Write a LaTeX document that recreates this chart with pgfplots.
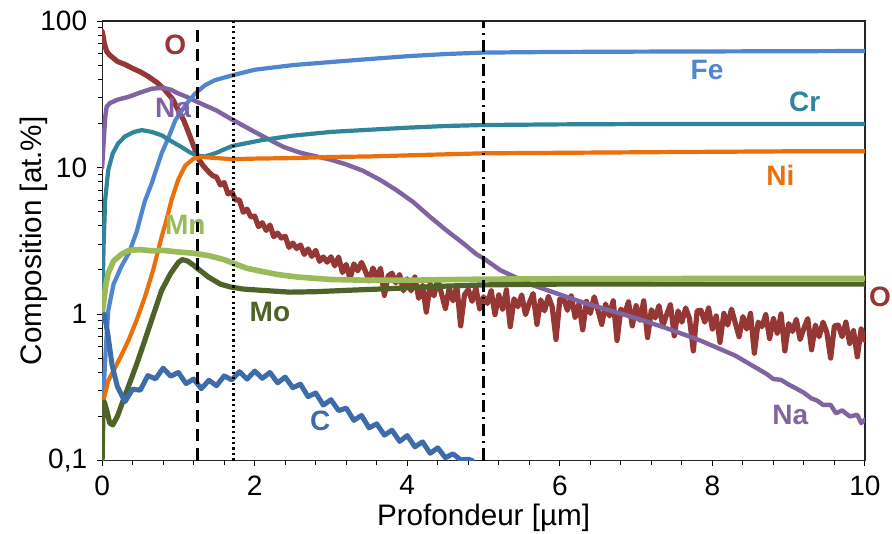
\documentclass[border=0pt]{standalone}
\usepackage{fontspec}
\setmainfont{Liberation Sans}
\usepackage{pgfplots}
\pgfplotsset{compat=1.18}
\definecolor{cO}{RGB}{149,55,53}
\definecolor{cNa}{RGB}{128,100,162}
\definecolor{cFe}{RGB}{79,134,206}
\definecolor{cC}{RGB}{62,108,170}
\definecolor{cCr}{RGB}{49,133,155}
\definecolor{cNi}{RGB}{234,112,13}
\definecolor{cMn}{RGB}{155,187,89}
\definecolor{cMo}{RGB}{79,98,40}
\begin{document}
\begin{tikzpicture}
\fontsize{14}{16}\selectfont
\begin{axis}[
  at={(0,0)}, anchor=south west,
  scale only axis, width=381pt, height=219.5pt,
  xmin=0, xmax=10, ymode=log, ymin=0.1, ymax=100,
  xtick={0,2,4,6,8,10}, xticklabels={0,2,4,6,8,10},
  minor x tick num=4,
  ytick={0.1,1,10,100}, yticklabels={{0,1},1,10,100},
  xtick pos=bottom, ytick pos=left, tick align=outside,
  major tick length=2.6pt, minor tick length=2.2pt,
  every tick/.style={black, line width=0.5pt},
  axis line style={line width=0.6pt, black!85},
  tick label style={font=\fontsize{14}{16}\selectfont},
  xlabel={Profondeur [µm]}, ylabel={Composition [at.\%]},
  label style={font=\fontsize{14.8}{16}\selectfont},
  xlabel style={at={(axis description cs:0.5,-0.13)}, anchor=center},
  ylabel style={at={(axis description cs:-0.089,0.5)}, anchor=center},
  clip=true,
  every axis plot/.append style={line join=round, line cap=round},
]
% O
\addplot[cO, line width=2.6pt] coordinates {
(0,85) (0.01,80) (0.03,70) (0.06,62) (0.1,58.5) (0.2,53) (0.3,50.5) (0.4,47.5) (0.5,45) (0.6,42) (0.72,38) (0.82,34) (0.93,29) (1.0,24.5) (1.07,21) (1.13,17.5) (1.2,14) (1.27,11.3) (1.33,10.2) (1.4,9.3) (1.45,8.8)
(1.50,8.6) (1.55,7.6) (1.60,7.9) (1.65,6.6) (1.70,6.8) (1.75,6.0) (1.80,6.0) (1.85,4.95) (1.90,5.2) (1.95,4.6)
(2.00,4.66) (2.05,3.95) (2.10,4.2) (2.15,3.72) (2.20,4.05) (2.25,3.37) (2.30,3.57) (2.35,3.3) (2.40,3.4) (2.45,2.85)
(2.50,3.05) (2.55,2.8) (2.60,2.96) (2.65,2.55) (2.70,2.78) (2.75,2.47) (2.80,2.72) (2.85,2.29) (2.90,2.45) (2.95,2.26)
(3.00,2.46) (3.05,2.13) (3.10,2.45) (3.15,1.92) (3.20,2.18) (3.25,1.74) (3.30,2.2) (3.35,1.97) (3.40,2.25) (3.45,1.97)
(3.50,1.68) (3.55,2.06) (3.60,1.77) (3.65,2.05) (3.70,1.34) (3.75,1.82) (3.80,1.9) (3.85,1.63) (3.90,1.86) (3.95,1.44)
(4.00,1.74) (4.05,1.44) (4.10,1.79) (4.15,1.28) (4.20,1.56) (4.25,1.03) (4.30,1.61) (4.35,1.33) (4.40,1.72) (4.45,1.37)
(4.50,1.09) (4.55,1.5) (4.60,1.23) (4.65,1.56) (4.70,0.83) (4.75,1.35) (4.80,1.47) (4.85,1.22) (4.90,1.51) (4.95,1.08)
(5.00,1.31) (5.05,1.18) (5.10,1.44) (5.15,0.99) (5.20,1.35) (5.25,1.08) (5.30,1.46) (5.35,0.82) (5.40,1.27) (5.45,1.12)
(5.50,1.35) (5.55,0.99) (5.60,1.19) (5.65,1.38) (5.70,0.85) (5.75,1.25) (5.80,1.05) (5.85,1.32) (5.90,1.12) (5.95,0.67)
(6.00,1.26) (6.05,1.27) (6.10,1.06) (6.15,1.33) (6.20,0.95) (6.25,1.17) (6.30,0.78) (6.35,1.22) (6.40,1.01) (6.45,1.31)
(6.50,1.06) (6.55,0.85) (6.60,1.17) (6.65,0.97) (6.70,1.23) (6.75,0.66) (6.80,1.08) (6.85,1.0) (6.90,1.21) (6.95,0.83)
(7.00,1.14) (7.05,0.91) (7.10,1.23) (7.15,0.69) (7.20,1.07) (7.25,0.94) (7.30,1.14) (7.35,0.83) (7.40,0.99) (7.45,1.16)
(7.50,0.71) (7.55,1.05) (7.60,0.88) (7.65,1.1) (7.70,0.93) (7.75,0.56) (7.80,1.05) (7.85,1.06) (7.90,0.88) (7.95,1.1)
(8.00,0.79) (8.05,0.97) (8.10,0.64) (8.15,1.01) (8.20,0.84) (8.25,1.08) (8.30,0.87) (8.35,0.7) (8.40,0.96) (8.45,0.79)
(8.50,1.01) (8.55,0.54) (8.60,0.88) (8.65,0.82) (8.70,0.99) (8.75,0.68) (8.80,0.93) (8.85,0.74) (8.90,1.0) (8.95,0.56)
(9.00,0.86) (9.05,0.76) (9.10,0.92) (9.15,0.67) (9.20,0.8) (9.25,0.93) (9.30,0.57) (9.35,0.84) (9.40,0.7) (9.45,0.88)
(9.50,0.75) (9.55,0.5) (9.60,0.83) (9.65,0.84) (9.70,0.7) (9.75,0.88) (9.80,0.63) (9.85,0.77) (9.90,0.51) (9.95,0.79) (10.00,0.66)
};
% Na
\addplot[cNa, line width=2.2pt] coordinates {
(0,10) (0.02,15) (0.04,22) (0.06,26) (0.1,27.5) (0.2,29) (0.35,30.4) (0.5,32.5) (0.65,34.5) (0.8,35) (0.9,34) (1.0,32) (1.1,30.5) (1.25,28) (1.5,24.5) (1.68,21.6) (2.0,17.5) (2.16,15.8) (2.38,13.8) (2.6,12.6) (3.0,11.3) (3.2,10.5) (3.42,9.5) (3.65,8.2) (3.86,7.0) (4.08,5.8) (4.3,4.6) (4.52,3.7) (4.74,3.02) (4.91,2.55) (5.0,2.4) (5.22,1.99) (5.65,1.57) (6.3,1.2) (6.96,0.95) (7.4,0.8) (7.84,0.66) (8.3,0.52) (8.71,0.39) (8.8,0.36) (8.9,0.355) (9.0,0.33) (9.1,0.31) (9.2,0.29) (9.3,0.265) (9.37,0.257) (9.45,0.24) (9.55,0.24) (9.62,0.21) (9.7,0.22) (9.8,0.2) (9.9,0.205) (9.95,0.18) (10,0.19)
};
% Fe
\addplot[cFe, line width=2.1pt] coordinates {
(0,0.25) (0.02,0.3) (0.05,0.6) (0.08,1.05) (0.15,1.6) (0.25,2.1) (0.35,2.6) (0.45,3.6) (0.56,5.9) (0.65,7.8) (0.78,12.5) (0.87,16) (0.96,21) (1.1,27) (1.22,32) (1.35,36.5) (1.48,39.5) (1.7,42.5) (2.0,46.5) (2.5,50) (3,52.5) (3.5,55) (4,57.5) (4.5,59.5) (5,60.9) (6,61.5) (7,61.8) (8,62) (9,62.2) (10,62.4)
};
% Cr
\addplot[cCr, line width=2.1pt] coordinates {
(0,1.0) (0.02,3) (0.04,6) (0.08,9.6) (0.14,12.5) (0.21,14.6) (0.3,16.3) (0.42,17.5) (0.52,18) (0.65,17.5) (0.78,16.6) (0.9,15.2) (1.04,13.8) (1.15,12.7) (1.25,12) (1.35,11.9) (1.5,12.6) (1.7,14.0) (2.1,15.4) (2.5,16.5) (3,17.5) (3.5,18.1) (4,18.7) (4.5,19.2) (5,19.5) (6,19.7) (7,19.8) (8,19.8) (9,19.8) (10,19.8)
};
% Ni
\addplot[cNi, line width=2.1pt] coordinates {
(0,0.2) (0.02,0.26) (0.08,0.35) (0.17,0.43) (0.25,0.52) (0.345,0.66) (0.45,0.9) (0.56,1.3) (0.67,2.0) (0.78,3.36) (0.85,4.5) (0.91,6.0) (1.0,8.3) (1.09,10.3) (1.2,11.5) (1.3,11.8) (1.5,11.6) (1.7,11.4) (2,11.5) (2.5,11.6) (3,11.8) (3.5,11.9) (4,12.1) (4.5,12.3) (5,12.5) (6,12.6) (7,12.7) (8,12.8) (9,12.9) (10,12.9)
};
% Mn
\addplot[cMn, line width=2.8pt] coordinates {
(0,1.0) (0.02,1.2) (0.05,1.6) (0.08,1.9) (0.15,2.3) (0.25,2.55) (0.35,2.72) (0.5,2.75) (0.65,2.7) (0.8,2.72) (1.0,2.65) (1.2,2.6) (1.4,2.5) (1.6,2.35) (1.72,2.22) (1.9,2.05) (2.1,1.95) (2.3,1.86) (2.55,1.79) (2.8,1.75) (3,1.72) (3.5,1.7) (4,1.7) (5,1.73) (6,1.74) (7,1.74) (8,1.75) (9,1.75) (10,1.75)
};
% Mo
\addplot[cMo, line width=2.6pt] coordinates {
(0,0.1) (0.01,0.2) (0.03,0.25) (0.06,0.22) (0.1,0.18) (0.14,0.175) (0.2,0.2) (0.28,0.26) (0.345,0.32) (0.45,0.45) (0.56,0.66) (0.67,0.98) (0.78,1.45) (0.9,1.9) (1.0,2.25) (1.05,2.35) (1.12,2.3) (1.2,2.15) (1.28,1.99) (1.4,1.78) (1.55,1.6) (1.68,1.53) (1.85,1.48) (2.1,1.45) (2.46,1.41) (2.8,1.42) (3.2,1.45) (3.77,1.49) (4.5,1.55) (5,1.58) (6,1.6) (7,1.6) (8,1.6) (9,1.6) (10,1.6)
};
% C
\addplot[cC, line width=2.5pt] coordinates {
(0,0.9) (0.03,1.0) (0.08,0.7) (0.13,0.45) (0.2,0.32)
(0.3,0.252) (0.4,0.307) (0.5,0.302) (0.6,0.38) (0.7,0.361) (0.8,0.427) (0.9,0.376) (1.0,0.399) (1.1,0.335) (1.2,0.36)
(1.3,0.309) (1.4,0.353) (1.5,0.324) (1.6,0.378) (1.7,0.355) (1.8,0.404) (1.9,0.359) (2.0,0.408) (2.1,0.364) (2.2,0.399)
(2.3,0.339) (2.4,0.371) (2.5,0.314) (2.6,0.332) (2.7,0.273) (2.8,0.289) (2.9,0.239) (3.0,0.26) (3.1,0.219) (3.2,0.228)
(3.3,0.188) (3.4,0.203) (3.5,0.167) (3.6,0.178) (3.7,0.149) (3.8,0.161) (3.9,0.135) (4.0,0.148) (4.1,0.124) (4.2,0.134)
(4.3,0.112) (4.4,0.122) (4.5,0.1045) (4.6,0.111) (4.7,0.101) (4.8,0.102) (4.85,0.1)
};
% vertical reference lines
\addplot[black, line width=1.4pt, dash pattern=on 6pt off 3.5pt, line cap=butt] coordinates {(1.25,0.1) (1.25,92)};
\addplot[black, line width=1.2pt, dash pattern=on 1.1pt off 1.6pt, line cap=butt] coordinates {(1.72,0.1) (1.72,100)};
\addplot[black, line width=1.3pt, dash pattern=on 6pt off 2.5pt on 1pt off 2.5pt, line cap=butt] coordinates {(5.0,0.1) (5.0,100)};
% labels
\node[text=cO, font=\bfseries\fontsize{14}{16}\selectfont] at (axis cs:0.96,68.5) {O};
\node[text=cNa, font=\bfseries\fontsize{14}{16}\selectfont] at (axis cs:0.93,25.4) {Na};
\node[text=cFe, font=\bfseries\fontsize{14}{16}\selectfont] at (axis cs:7.93,46) {Fe};
\node[text=cCr, font=\bfseries\fontsize{14}{16}\selectfont] at (axis cs:9.21,27.9) {Cr};
\node[text=cNi, font=\bfseries\fontsize{14}{16}\selectfont] at (axis cs:8.89,8.85) {Ni};
\node[text=cMn, font=\bfseries\fontsize{14}{16}\selectfont] at (axis cs:1.09,4.04) {Mn};
\node[text=cMo, font=\bfseries\fontsize{14}{16}\selectfont] at (axis cs:2.2,1.03) {Mo};
\node[text=cC, font=\bfseries\fontsize{14}{16}\selectfont] at (axis cs:2.86,0.187) {C};
\node[text=cNa, font=\bfseries\fontsize{14}{16}\selectfont] at (axis cs:9.02,0.203) {Na};
\end{axis}
\node[text=cO, font=\bfseries\fontsize{14}{16}\selectfont] at (388.5pt,81.5pt) {O};
\pgfresetboundingbox
\path[use as bounding box] (-51pt,-36.5pt) rectangle (394.5pt,230pt);
\end{tikzpicture}
\end{document}
